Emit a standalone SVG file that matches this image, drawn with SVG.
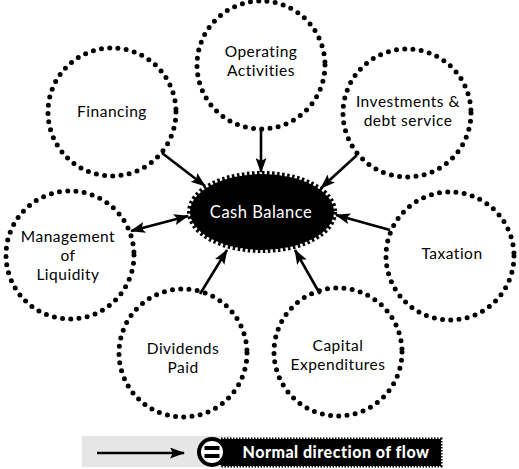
<svg xmlns="http://www.w3.org/2000/svg" width="519" height="469" viewBox="0 0 519 469">
<style>
.node{fill:none;stroke:#000;stroke-width:5;stroke-linecap:round;stroke-dasharray:0 8.3}
.lbl{font-family:Lato,"Noto Sans",sans-serif;font-size:15.5px;letter-spacing:0.5px;fill:#000;text-anchor:middle}
.conn line{stroke:#000;stroke-width:2.6}
</style>
<defs>
<marker id="ah" markerUnits="userSpaceOnUse" markerWidth="15" markerHeight="11" refX="14" refY="5.5" orient="auto-start-reverse" viewBox="0 0 15 11">
<path d="M0,0 L15,5.5 L0,11 L3,5.5 z" fill="#000"/>
</marker>
</defs>
<rect width="519" height="469" fill="#fff"/>
<g id="operating"><circle class="node" cx="261" cy="65" r="64"/><text class="lbl" x="261" y="57">Operating</text><text class="lbl" x="261" y="76">Activities</text></g>
<g id="financing"><circle class="node" cx="112" cy="112" r="64"/><text class="lbl" x="112" y="117">Financing</text></g>
<g id="investments"><circle class="node" cx="407" cy="113" r="64"/><text class="lbl" x="408" y="107">Investments &amp;</text><text class="lbl" x="408" y="126">debt service</text></g>
<g id="liquidity"><circle class="node" cx="70" cy="255" r="64"/><text class="lbl" x="68" y="242">Management</text><text class="lbl" x="68" y="261">of</text><text class="lbl" x="68" y="280">Liquidity</text></g>
<g id="taxation"><circle class="node" cx="450" cy="256" r="64"/><text class="lbl" x="452" y="259">Taxation</text></g>
<g id="dividends"><circle class="node" cx="183" cy="353" r="64"/><text class="lbl" x="183" y="354">Dividends</text><text class="lbl" x="183" y="373">Paid</text></g>
<g id="capex"><circle class="node" cx="338" cy="352" r="64"/><text class="lbl" x="338" y="351">Capital</text><text class="lbl" x="338" y="370">Expenditures</text></g>
<g id="cash"><ellipse cx="262" cy="212" rx="72" ry="38" fill="#000" stroke="#000" stroke-width="6" stroke-dasharray="2.5 2.5"/><text x="261" y="218" font-family="Lato,Noto Sans,sans-serif" font-size="16.5" letter-spacing="0.5" fill="#fff" text-anchor="middle">Cash Balance</text></g>
<g id="connectors" class="conn">
<line x1="261" y1="129" x2="261" y2="172" marker-end="url(#ah)"/>
<line x1="162" y1="153" x2="205" y2="186" marker-end="url(#ah)"/>
<line x1="357" y1="155" x2="321" y2="188" marker-end="url(#ah)"/>
<line x1="390" y1="230" x2="336" y2="215" marker-end="url(#ah)"/>
<line x1="131" y1="231" x2="188" y2="216" marker-start="url(#ah)" marker-end="url(#ah)"/>
<line x1="200" y1="294" x2="227" y2="250" marker-end="url(#ah)"/>
<line x1="320" y1="294" x2="295" y2="250" marker-end="url(#ah)"/>
</g>
<g id="legend">
<rect x="82" y="436" width="150" height="31" fill="#e6e6e6"/>
<line x1="97" y1="453" x2="184" y2="453" stroke="#000" stroke-width="2.6" marker-end="url(#ah)"/>
<rect x="221" y="439" width="220" height="27" fill="#000" stroke="#000" stroke-width="3" stroke-dasharray="1.5 1.5"/>
<circle cx="212" cy="452" r="13" fill="#fff" stroke="#000" stroke-width="4"/>
<rect x="204.5" y="446" width="15" height="4" fill="#000"/>
<rect x="204.5" y="454" width="15" height="4" fill="#000"/>
<text x="336" y="458" font-family="Lato,Noto Sans,sans-serif" font-size="16" font-weight="900" letter-spacing="0.5" fill="#fff" text-anchor="middle">Normal direction of flow</text>
</g>
</svg>
